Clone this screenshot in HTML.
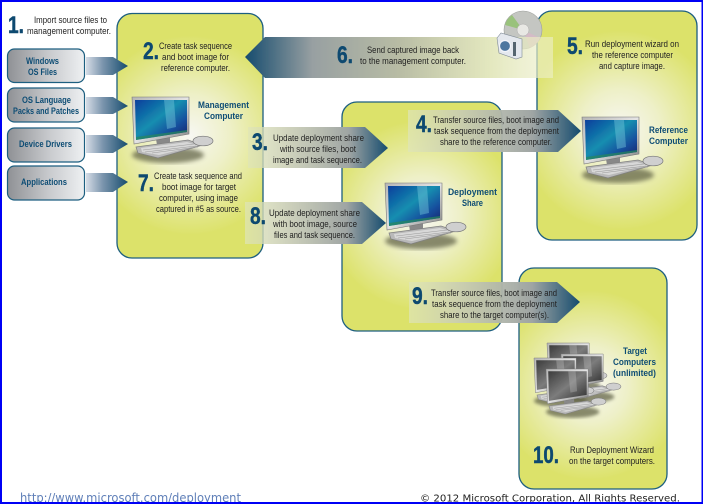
<!DOCTYPE html>
<html><head><meta charset="utf-8">
<style>
html,body{margin:0;padding:0;background:#fff;width:703px;height:504px;overflow:hidden}
svg{display:block;position:absolute;left:0;top:0}
text{font-family:"Liberation Sans",sans-serif}
.t{font-size:9px;fill:#222}
.b{font-size:9.5px;font-weight:bold;fill:#0f4d74}
.n{font-size:24.5px;font-weight:bold;fill:#0f4a70;stroke:#0f4a70;stroke-width:.45}
.f{font-family:"DejaVu Sans",sans-serif;font-size:10px}
</style></head>
<body>
<svg width="703" height="504" viewBox="0 0 703 504" xmlns="http://www.w3.org/2000/svg">
<defs>
<radialGradient id="pm" gradientUnits="userSpaceOnUse" cx="190" cy="135" r="100"><stop offset="0" stop-color="#f7f7f2"/><stop offset=".4" stop-color="#eef0c8"/><stop offset="1" stop-color="#dce26a"/></radialGradient>
<radialGradient id="pr" gradientUnits="userSpaceOnUse" cx="620" cy="130" r="100"><stop offset="0" stop-color="#f7f7f2"/><stop offset=".4" stop-color="#eef0c8"/><stop offset="1" stop-color="#dce26a"/></radialGradient>
<radialGradient id="pd" gradientUnits="userSpaceOnUse" cx="422" cy="215" r="95"><stop offset="0" stop-color="#f7f7f2"/><stop offset=".4" stop-color="#eef0c8"/><stop offset="1" stop-color="#dce26a"/></radialGradient>
<radialGradient id="pt" gradientUnits="userSpaceOnUse" cx="590" cy="385" r="95"><stop offset="0" stop-color="#f7f7f2"/><stop offset=".4" stop-color="#eef0c8"/><stop offset="1" stop-color="#dce26a"/></radialGradient>
<linearGradient id="ar" x1="0" x2="1" y1="0" y2="0"><stop offset="0" stop-color="#dfe5b8" stop-opacity=".7"/><stop offset=".3" stop-color="#c8ccb4" stop-opacity=".9"/><stop offset=".72" stop-color="#9fa5a4"/><stop offset="1" stop-color="#164c6e"/></linearGradient>
<linearGradient id="al" x1="0" x2="1" y1="0" y2="0"><stop offset="0" stop-color="#164c6e"/><stop offset=".22" stop-color="#98a0a2"/><stop offset=".5" stop-color="#b8bca4"/><stop offset=".8" stop-color="#dfe4b4" stop-opacity=".85"/><stop offset="1" stop-color="#eef0cc" stop-opacity=".6"/></linearGradient>
<linearGradient id="as" x1="0" x2="1" y1="0" y2="0"><stop offset="0" stop-color="#d5dce6"/><stop offset=".4" stop-color="#7b95ad"/><stop offset="1" stop-color="#164c6e"/></linearGradient>
<linearGradient id="bx" x1="0" x2="1" y1="0" y2="0"><stop offset="0" stop-color="#8f9195"/><stop offset=".55" stop-color="#c9cbce"/><stop offset="1" stop-color="#eef0f2"/></linearGradient>
<linearGradient id="scr" x1="0" x2="1" y1="0" y2="1"><stop offset="0" stop-color="#0a3f9c"/><stop offset=".45" stop-color="#158eb0"/><stop offset=".72" stop-color="#17509e"/><stop offset="1" stop-color="#0e1c66"/></linearGradient>
<linearGradient id="scg" x1="0" x2="1" y1="0" y2="1"><stop offset="0" stop-color="#3c3c3c"/><stop offset=".5" stop-color="#7c7c7c"/><stop offset="1" stop-color="#2e2e2e"/></linearGradient>
<linearGradient id="bez" x1="0" x2="1" y1="0" y2="1"><stop offset="0" stop-color="#b5b5b5"/><stop offset=".5" stop-color="#e4e4e4"/><stop offset="1" stop-color="#7e7e7e"/></linearGradient>
<filter id="bl"><feGaussianBlur stdDeviation="2.2"/></filter>
<filter id="sb"><feGaussianBlur stdDeviation="0.28"/></filter>
<g id="body">
<ellipse cx="36" cy="58" rx="36" ry="8" fill="#5c5d40" opacity=".7" filter="url(#bl)"/>
<polygon points="24,42 38,40 38,46 25,48" fill="#888"/>
<polygon points="0,0 57,0 57,37 2,47" fill="url(#bez)" stroke="#777" stroke-width=".6"/>
<polygon points="4,50 56,43 71,48 26,61 6,56" fill="#b9b9b9" stroke="#808080" stroke-width=".7"/>
<polygon points="9,51 55,45 66,48.500 27,58 10,55" fill="#d8d8d8"/>
<path d="M11 53 L62 47 M13 55 L64 49 M20 56 L66 50" stroke="#9a9a9a" stroke-width=".6" fill="none"/>
<ellipse cx="71" cy="44" rx="10" ry="4.800" fill="#cfcfcf" stroke="#777" stroke-width=".7"/>
</g>
<g id="pc"><use href="#body"/>
<polygon points="3,3 55,3 55,35 4,43" fill="url(#scr)"/>
<polygon points="32,3 42,3 44,30 35,32" fill="#7fd0e0" opacity=".4"/>
<polygon points="4,40 55,33 55,35 4,43" fill="#2a8a5a" opacity=".7"/>
</g>
<g id="pg"><use href="#body"/>
<polygon points="3,3 55,3 55,35 4,43" fill="url(#scg)"/>
<polygon points="30,3 40,3 42,30 33,32" fill="#ccc" opacity=".3"/>
</g>
</defs>
<g filter="url(#sb)">
<rect x="117" y="13.500" width="146" height="244.500" rx="15" fill="url(#pm)" stroke="#1f5f80" stroke-width="1.300"/>
<rect x="537" y="11" width="160" height="229" rx="15" fill="url(#pr)" stroke="#1f5f80" stroke-width="1.300"/>
<rect x="342" y="102" width="160" height="229" rx="15" fill="url(#pd)" stroke="#1f5f80" stroke-width="1.300"/>
<rect x="519" y="268" width="148" height="221" rx="15" fill="url(#pt)" stroke="#1f5f80" stroke-width="1.300"/>

<rect x="7.500" y="49" width="77" height="33.500" rx="7" fill="url(#bx)" stroke="#1f5f80" stroke-width="1.200"/>
<rect x="7.500" y="88" width="77" height="34" rx="7" fill="url(#bx)" stroke="#1f5f80" stroke-width="1.200"/>
<rect x="7.500" y="128" width="77" height="34" rx="7" fill="url(#bx)" stroke="#1f5f80" stroke-width="1.200"/>
<rect x="7.500" y="166" width="77" height="34" rx="7" fill="url(#bx)" stroke="#1f5f80" stroke-width="1.200"/>
<polygon points="86,57 113,57 128,66 113,75 86,75" fill="url(#as)"/>
<polygon points="86,97 113,97 128,106 113,114 86,114" fill="url(#as)"/>
<polygon points="86,135 113,135 128,144 113,153 86,153" fill="url(#as)"/>
<polygon points="86,173 113,173 128,182 113,192 86,192" fill="url(#as)"/>

<use href="#pc" x="132" y="97"/>
<use href="#pc" x="582" y="117"/>
<use href="#pc" x="385" y="183"/>
<use href="#pg" transform="translate(547,343) scale(.74)"/>
<use href="#pg" transform="translate(561,354) scale(.74)"/>
<use href="#pg" transform="translate(534,358) scale(.74)"/>
<use href="#pg" transform="translate(546,369) scale(.74)"/>

<circle cx="523" cy="30" r="19" fill="#c4c6c2" stroke="#9da09d" stroke-width=".6"/>
<path d="M523 30 L505 25 A19 19 0 0 1 512 15 Z" fill="#8fc06a" opacity=".8"/>
<path d="M523 30 L540 38 A19 19 0 0 1 530 48 Z" fill="#d8b8c8" opacity=".8"/>
<polygon points="245,57 265,37 553,37 553,78 265,78" fill="url(#al)"/>
<circle cx="523" cy="30" r="6" fill="#e8e8e4" stroke="#aaa" stroke-width=".5"/>
<polygon points="497,38 501,33 522,39 522,57 516,59 499,53" fill="#e4e8ee" stroke="#7f8a96" stroke-width=".6"/>
<circle cx="505" cy="46" r="5.500" fill="#4e769f" stroke="#f2f4fa" stroke-width="1.200"/>
<rect x="513" y="42" width="3" height="14" fill="#55656f"/>

<polygon points="248,127 365,127 388,148 365,168 248,168" fill="url(#ar)"/>
<polygon points="245,202 362,202 386,223 362,244 245,244" fill="url(#ar)"/>
<polygon points="408,110 558,110 581,131 558,152 408,152" fill="url(#ar)"/>
<polygon points="409,282 557,282 580,302 557,323 409,323" fill="url(#ar)"/>

<g class="t">
<text x="34" y="23" class="t" textLength="73" lengthAdjust="spacingAndGlyphs">Import source files to</text>
<text x="27" y="34" class="t" textLength="84" lengthAdjust="spacingAndGlyphs">management computer.</text>
<text x="159" y="49" class="t" textLength="73" lengthAdjust="spacingAndGlyphs">Create task sequence</text>
<text x="162" y="60" class="t" textLength="67" lengthAdjust="spacingAndGlyphs">and boot image for</text>
<text x="161" y="71" class="t" textLength="69" lengthAdjust="spacingAndGlyphs">reference computer.</text>
<text x="154" y="179" class="t" textLength="88" lengthAdjust="spacingAndGlyphs">Create task sequence and</text>
<text x="162" y="190" class="t" textLength="74" lengthAdjust="spacingAndGlyphs">boot image for target</text>
<text x="159" y="201" class="t" textLength="79" lengthAdjust="spacingAndGlyphs">computer, using image</text>
<text x="156" y="212" class="t" textLength="85" lengthAdjust="spacingAndGlyphs">captured in #5 as source.</text>
<text x="367" y="53" class="t" textLength="92" lengthAdjust="spacingAndGlyphs">Send captured image back</text>
<text x="360" y="64" class="t" textLength="106" lengthAdjust="spacingAndGlyphs">to the management computer.</text>
<text x="585" y="47" class="t" textLength="94" lengthAdjust="spacingAndGlyphs">Run deployment wizard on</text>
<text x="592" y="58" class="t" textLength="81" lengthAdjust="spacingAndGlyphs">the reference computer</text>
<text x="599" y="69" class="t" textLength="66" lengthAdjust="spacingAndGlyphs">and capture image.</text>
<text x="273" y="141" class="t" textLength="91" lengthAdjust="spacingAndGlyphs">Update deployment  share</text>
<text x="280" y="152" class="t" textLength="76" lengthAdjust="spacingAndGlyphs">with source files, boot</text>
<text x="273" y="163" class="t" textLength="89" lengthAdjust="spacingAndGlyphs">image and task sequence.</text>
<text x="433" y="123" class="t" textLength="126" lengthAdjust="spacingAndGlyphs">Transfer source files, boot image and</text>
<text x="434" y="134" class="t" textLength="125" lengthAdjust="spacingAndGlyphs">task sequence from the deployment</text>
<text x="440" y="145" class="t" textLength="112" lengthAdjust="spacingAndGlyphs">share to the reference computer.</text>
<text x="269" y="216" class="t" textLength="91" lengthAdjust="spacingAndGlyphs">Update deployment share</text>
<text x="273" y="227" class="t" textLength="84" lengthAdjust="spacingAndGlyphs">with boot image, source</text>
<text x="274" y="238" class="t" textLength="81" lengthAdjust="spacingAndGlyphs">files and task sequence.</text>
<text x="431" y="296" class="t" textLength="126" lengthAdjust="spacingAndGlyphs">Transfer source files, boot image and</text>
<text x="432" y="307" class="t" textLength="125" lengthAdjust="spacingAndGlyphs">task sequence from the deployment</text>
<text x="440" y="318" class="t" textLength="109" lengthAdjust="spacingAndGlyphs">share to the target computer(s).</text>
<text x="570" y="453" class="t" textLength="84" lengthAdjust="spacingAndGlyphs">Run Deployment Wizard</text>
<text x="569" y="464" class="t" textLength="86" lengthAdjust="spacingAndGlyphs">on the target computers.</text>
</g>

<text x="26" y="64" class="b" textLength="33" lengthAdjust="spacingAndGlyphs">Windows</text>
<text x="28" y="75" class="b" textLength="29" lengthAdjust="spacingAndGlyphs">OS Files</text>
<text x="22" y="103" class="b" textLength="49" lengthAdjust="spacingAndGlyphs">OS Language</text>
<text x="13" y="114" class="b" textLength="66" lengthAdjust="spacingAndGlyphs">Packs and Patches</text>
<text x="19" y="147" class="b" textLength="53" lengthAdjust="spacingAndGlyphs">Device Drivers</text>
<text x="21" y="185" class="b" textLength="46" lengthAdjust="spacingAndGlyphs">Applications</text>
<text x="198" y="108" class="b" textLength="51" lengthAdjust="spacingAndGlyphs">Management</text>
<text x="204" y="119" class="b" textLength="39" lengthAdjust="spacingAndGlyphs">Computer</text>
<text x="649" y="133" class="b" textLength="39" lengthAdjust="spacingAndGlyphs">Reference</text>
<text x="649" y="144" class="b" textLength="39" lengthAdjust="spacingAndGlyphs">Computer</text>
<text x="448" y="195" class="b" textLength="49" lengthAdjust="spacingAndGlyphs">Deployment</text>
<text x="462" y="206" class="b" textLength="21" lengthAdjust="spacingAndGlyphs">Share</text>
<text x="623" y="354" class="b" textLength="24" lengthAdjust="spacingAndGlyphs">Target</text>
<text x="613" y="365" class="b" textLength="43" lengthAdjust="spacingAndGlyphs">Computers</text>
<text x="613" y="376" class="b" textLength="43" lengthAdjust="spacingAndGlyphs">(unlimited)</text>

<text x="8" y="33" class="n" textLength="16" lengthAdjust="spacingAndGlyphs">1.</text>
<text x="143" y="59" class="n" textLength="16" lengthAdjust="spacingAndGlyphs">2.</text>
<text x="252" y="150" class="n" textLength="16" lengthAdjust="spacingAndGlyphs">3.</text>
<text x="416" y="132" class="n" textLength="16" lengthAdjust="spacingAndGlyphs">4.</text>
<text x="567" y="54" class="n" textLength="16" lengthAdjust="spacingAndGlyphs">5.</text>
<text x="337" y="63" class="n" textLength="16" lengthAdjust="spacingAndGlyphs">6.</text>
<text x="138" y="191" class="n" textLength="16" lengthAdjust="spacingAndGlyphs">7.</text>
<text x="250" y="224" class="n" textLength="16" lengthAdjust="spacingAndGlyphs">8.</text>
<text x="412" y="304" class="n" textLength="16" lengthAdjust="spacingAndGlyphs">9.</text>
<text x="533" y="463" class="n" textLength="26" lengthAdjust="spacingAndGlyphs">10.</text>
</g>
<text x="20" y="502" class="f" fill="#5f7fb8" style="font-size:12px" textLength="221" lengthAdjust="spacingAndGlyphs">http://www.microsoft.com/deployment</text>
<text x="420" y="501.500" class="f" fill="#222" textLength="260" lengthAdjust="spacingAndGlyphs">© 2012 Microsoft Corporation, All Rights Reserved.</text>
<rect x="0" y="0" width="703" height="2" fill="#0000f5"/>
<rect x="0" y="0" width="2" height="504" fill="#0000f5"/>
<rect x="701.500" y="0" width="1.500" height="504" fill="#0000f5"/>
<rect x="0" y="502" width="703" height="2" fill="#0000f5"/>
</svg>
</body></html>
